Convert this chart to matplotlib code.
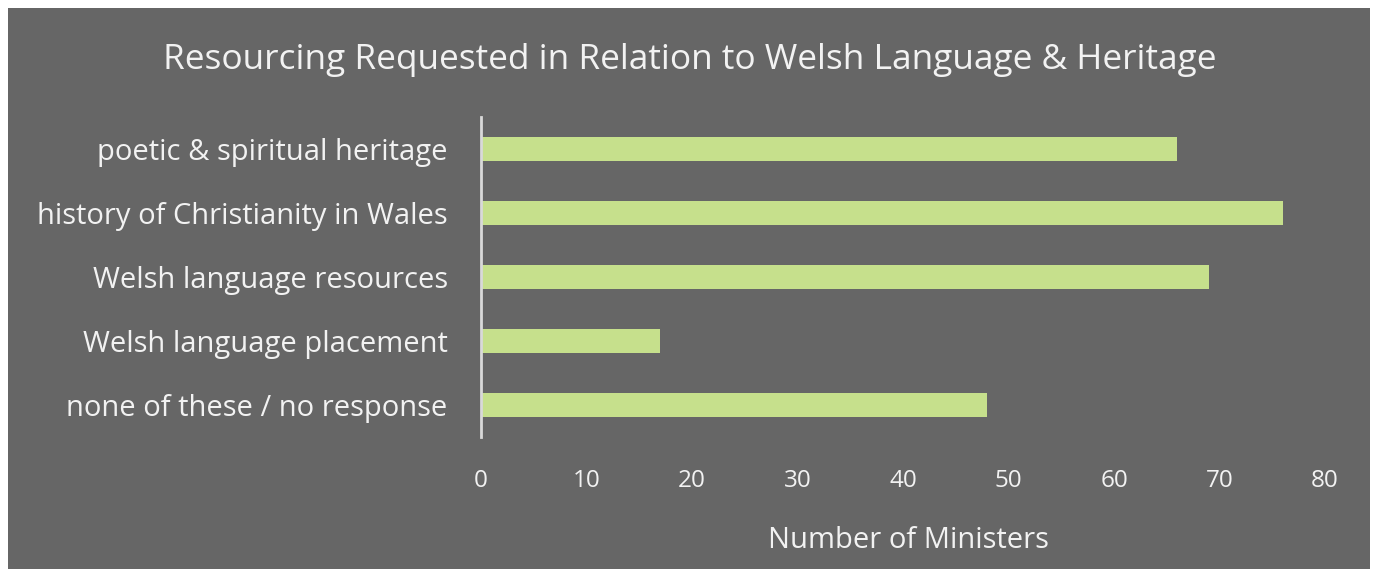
import matplotlib
matplotlib.use("Agg")
import matplotlib.pyplot as plt
from matplotlib.patches import Rectangle

categories = ["poetic & spiritual heritage", "history of Christianity in Wales",
              "Welsh language resources", "Welsh language placement",
              "none of these / no response"]
values = [66, 76, 69, 17, 48]
xticks = [0, 10, 20, 30, 40, 50, 60, 70, 80]

W, H = 1375, 569
fig = plt.figure(figsize=(W / 100, H / 100), dpi=100, facecolor="white")
bg = "#666666"
fig.patches.append(Rectangle((8 / W, 0), (1370 - 8) / W, (H - 8) / H,
                             transform=fig.transFigure, facecolor=bg,
                             edgecolor="none", zorder=-10))
plt.rcParams['font.family'] = ['Open Sans', 'DejaVu Sans']
txt = "#f2f2f2"

ax = fig.add_axes([481 / W, 1 - 437 / H, (1325 - 481) / W, (437 - 117) / H])
ax.set_facecolor("none")
ax.set_zorder(5)
ypos = list(range(len(categories)))
ax.barh(ypos, values, height=0.36, color="#c6e08c", zorder=2)
ax.set_ylim(len(categories) - 0.5, -0.5)
ax.set_xlim(0, 80)
ax.set_yticks(ypos)
ax.set_yticklabels(categories, fontsize=21, color=txt)
ax.set_xticks(xticks)
ax.set_xticklabels([str(t) for t in xticks], fontsize=17.5, color=txt)
ax.tick_params(axis="y", length=0, pad=24)
ax.tick_params(axis="x", length=0, pad=23)
for s in ["top", "right", "bottom"]:
    ax.spines[s].set_visible(False)
ax.spines["left"].set_color("#d9d9d9")
ax.spines["left"].set_linewidth(2)
ax.set_xlabel("Number of Ministers", fontsize=21, color=txt)
ax.xaxis.label.set_va("center")
ax.xaxis.set_label_coords((908 - 481) / (1325 - 481), -(541 - 437) / (437 - 117))

fig.text(690 / W, 1 - 60 / H,
         "Resourcing Requested in Relation to Welsh Language & Heritage",
         ha="center", va="center", fontsize=25.4, color=txt)

fig.savefig("out.png", dpi=100, facecolor="white")
